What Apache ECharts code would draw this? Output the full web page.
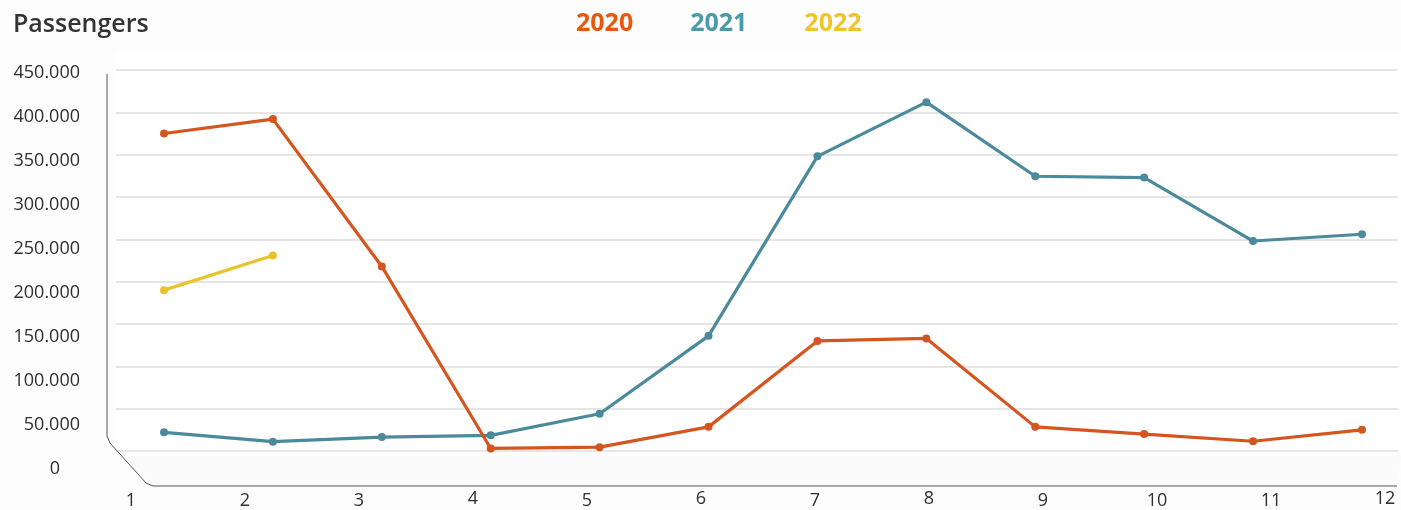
<!DOCTYPE html>
<html>
<head>
<meta charset="utf-8">
<script src="https://cdn.jsdelivr.net/npm/echarts@6/dist/echarts.min.js"></script>
<style>
  html, body { margin: 0; padding: 0; background: #fdfdfd; }
  #chart { width: 1401px; height: 510px; }
</style>
</head>
<body>
<div id="chart"></div>
<script>
// months shown on the floor of the chart
const months = ['1', '2', '3', '4', '5', '6', '7', '8', '9', '10', '11', '12']
// passengers per month
const pax2020 = [375000, 392000, 218000, 3000, 4500, 28500, 130000, 133000, 28500, 20000, 11500, 25000]
const pax2021 = [22000, 11000, 16500, 18500, 44000, 136000, 348000, 412000, 324500, 323000, 248000, 256000]
const pax2022 = [190000, 231000, null, null, null, null, null, null, null, null, null, null]
const yTicks = [0, 50000, 100000, 150000, 200000, 250000, 300000, 350000, 400000, 450000]

const FONT = '"Open Sans", "Noto Sans", sans-serif'
const lineColors = { '2020': '#d4561e', '2021': '#4b8a9b', '2022': '#e9c22e' }
const legendColors = { '2020': '#e8590c', '2021': '#4a9aa9', '2022': '#f0c42c' }
// labels that Excel drew a few pixels higher
const raised = ['4', '6', '8', '12']

const yMax = yTicks[yTicks.length - 1]
const yStep = yTicks[1] - yTicks[0]

function makeSeries (name, data) {
  return {
    name: name,
    type: 'line',
    xAxisIndex: 0,
    yAxisIndex: 0,
    data: data,
    symbol: 'circle',
    symbolSize: 8,
    connectNulls: false,
    lineStyle: { width: 3.2, color: lineColors[name] },
    itemStyle: { color: lineColors[name] },
    emphasis: { disabled: true }
  }
}

const chart = echarts.init(document.getElementById('chart'))
const option = {
  backgroundColor: '#fdfdfd',
  animation: false,
  textStyle: { fontFamily: FONT },
  title: {
    text: 'Passengers',
    left: 8,
    top: 7,
    textStyle: { fontFamily: FONT, fontSize: 25, fontWeight: 600, color: '#333333' }
  },
  legend: {
    top: 6,
    left: 566,
    itemWidth: 0,
    itemHeight: 0,
    itemGap: 52,
    icon: 'circle',
    selectedMode: false,
    textStyle: { fontFamily: FONT, fontSize: 25, fontWeight: 'bold' },
    data: ['2020', '2021', '2022'].map(n => ({ name: n, textStyle: { color: legendColors[n] } }))
  },
  graphic: [
    {
      // back wall
      type: 'rect',
      z: -10,
      silent: true,
      shape: { x: 116, y: 52, width: 1285, height: 400 },
      style: { fill: '#ffffff' }
    },
    {
      // floor
      type: 'polygon',
      z: -10,
      silent: true,
      shape: { points: [[116, 456], [1401, 456], [1397, 486], [153, 486], [120, 456]] },
      style: { fill: '#fafafa' }
    },
    {
      // side wall edge and front floor edge
      type: 'polyline',
      z: 5,
      silent: true,
      shape: { points: [[107, 74], [107, 436], [110, 443], [146, 483], [153, 486], [1397, 486]] },
      style: { stroke: '#555555', lineWidth: 1, fill: null }
    }
  ],
  grid: [
    // data plane
    { left: 164, right: 39, top: 70, bottom: 59 },
    // gridlines on the back wall
    { left: 116, right: 3, top: 70, bottom: 59 },
    // value labels on the front plane
    { left: 88, right: 3, top: 73, bottom: 41 },
    // month labels on the front edge
    { left: 131, right: 16, top: 70, bottom: 24 }
  ],
  xAxis: [
    { gridIndex: 0, type: 'category', data: months, boundaryGap: false, show: false },
    { gridIndex: 1, type: 'category', data: months, show: false },
    { gridIndex: 2, type: 'category', data: months, show: false },
    {
      gridIndex: 3,
      type: 'category',
      data: months,
      boundaryGap: false,
      axisLine: { show: false },
      axisTick: { show: false },
      splitLine: { show: false },
      axisLabel: {
        margin: 8,
        interval: 0,
        fontFamily: FONT,
        fontSize: 18,
        color: '#2e2e2e',
        formatter: v => raised.includes(v) ? '{up|' + v + '}' : '{n|' + v + '}',
        rich: {
          n: { fontFamily: FONT, fontSize: 18, color: '#2e2e2e', padding: [2, 0, 0, 0] },
          up: { fontFamily: FONT, fontSize: 18, color: '#2e2e2e', padding: [0, 0, 6, 0] }
        }
      }
    }
  ],
  yAxis: [
    { gridIndex: 0, type: 'value', min: 0, max: yMax, interval: yStep, show: false },
    {
      gridIndex: 1,
      type: 'value',
      min: 0,
      max: yMax,
      interval: yStep,
      axisLine: { show: false },
      axisTick: { show: false },
      axisLabel: { show: false },
      splitLine: { show: true, lineStyle: { color: '#dcdcdc', width: 1.5 } }
    },
    {
      gridIndex: 2,
      type: 'value',
      min: 0,
      max: yMax,
      interval: yStep,
      axisLine: { show: false },
      axisTick: { show: false },
      splitLine: { show: false },
      axisLabel: {
        margin: 8,
        fontFamily: FONT,
        fontSize: 18,
        color: '#2e2e2e',
        formatter: v => v === 0 ? '{z|0}' : (v / 1000) + '.000',
        rich: {
          z: { fontFamily: FONT, fontSize: 18, color: '#2e2e2e', padding: [0, 20, 0, 0] }
        }
      }
    },
    { gridIndex: 3, type: 'value', show: false }
  ],
  series: [
    makeSeries('2021', pax2021),
    makeSeries('2020', pax2020),
    makeSeries('2022', pax2022)
  ]
}
chart.setOption(option)
</script>
</body>
</html>
